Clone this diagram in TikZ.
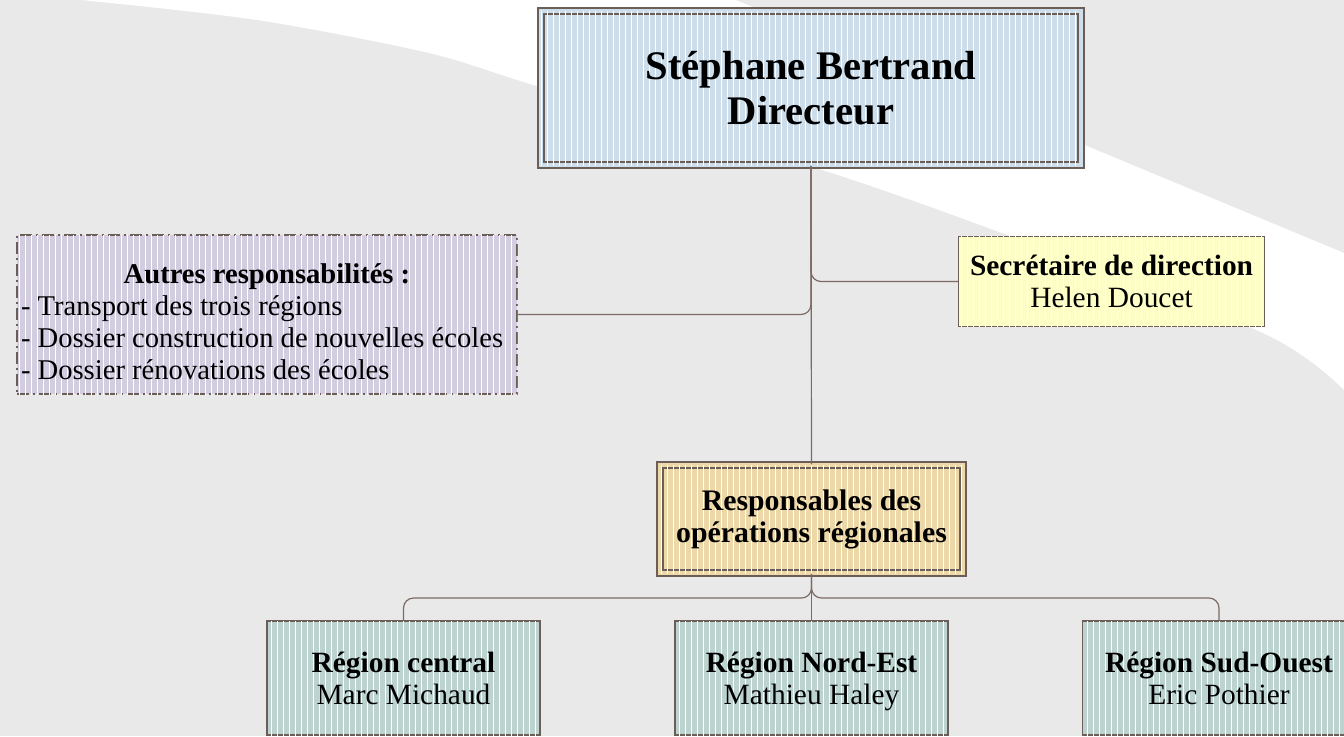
\documentclass[tikz,border=0pt]{standalone}
\usepackage{fontspec}
\setmainfont{Liberation Serif}
\usepackage{xcolor}
\usetikzlibrary{patterns}

\definecolor{bgGray}{HTML}{E9E9E9}
\definecolor{edgeBrown}{HTML}{6B5D58}
\definecolor{linkBrown}{HTML}{7D6A64}
\definecolor{dirBlue}{HTML}{CDDDEA}
\definecolor{autLilac}{HTML}{D3CDE0}
\definecolor{secYellow}{HTML}{FDFDC6}
\definecolor{respWheat}{HTML}{ECD8A9}
\definecolor{regTeal}{HTML}{BDD3CF}

\begin{document}
\begin{tikzpicture}[x=0.5pt, y=-0.5pt,
    stripes/.style={postaction={draw=none, solid, pattern=vertical lines, pattern color=white, fill opacity=0.22}},
    box/.style={draw=edgeBrown, line width=0.75pt, inner sep=0pt, align=center, stripes,
                font=\fontsize{14.7pt}{16pt}\selectfont},
    dblbox/.style={box, line width=0.75pt, double distance=2.2pt},
    region/.style={box, fill=regTeal, minimum width=136.5pt, minimum height=57pt, text depth=0pt},
    link/.style={draw=linkBrown, line width=0.6pt, rounded corners=5pt}]
      % backdrop with the white swoosh
      \clip (0, 0) rectangle (1344, 736);
      \fill[bgGray] (0, 0) rectangle (1344, 736);
      \fill[white] (736, 0) -- (1344, 253) -- (1344, 390)
          -- plot[smooth] coordinates {(1344, 390) (1263, 333) (1002, 233) (813, 167)
                                       (540, 87) (429, 53) (257, 20) (81, 0)}
          -- cycle;

      % boxes
      \node[dblbox, fill=dirBlue, double=dirBlue, minimum width=270pt, minimum height=77pt,
            font=\fontsize{20.3pt}{22.5pt}\selectfont\bfseries] (dir) at (811, 88)
          {Stéphane Bertrand\\Directeur};
      \node[box, fill=secYellow, minimum width=153pt, minimum height=45pt] (sec) at (1111.5, 281.5)
          {\textbf{Secrétaire de direction}\\Helen Doucet};
      \node[box, fill=autLilac, minimum width=250pt, minimum height=79.5pt, text depth=18pt,
            font=\fontsize{14.3pt}{16pt}\selectfont, line width=0.9pt,
            dash pattern=on 6pt off 2pt on 1pt off 2pt] (aut) at (267, 314.5)
          {\begin{tabular}{@{}p{246pt}@{}}
           \multicolumn{1}{@{}c@{}}{\textbf{Autres responsabilités :}}\\
           - Transport des trois régions\\
           - Dossier construction de nouvelles écoles\\
           - Dossier rénovations des écoles
           \end{tabular}};
      \node[dblbox, fill=respWheat, double=respWheat, minimum width=151.5pt, minimum height=54pt,
            font=\fontsize{14.9pt}{16pt}\selectfont\bfseries] (resp) at (811.5, 519)
          {Responsables des\\opérations régionales};
      \node[region] (central) at (403.5, 678) {\textbf{Région central}\\Marc Michaud};
      \node[region] (nordest) at (811.5, 678) {\textbf{Région Nord-Est}\\Mathieu Haley};
      \node[region] (sudouest) at (1219, 678) {\textbf{Région Sud-Ouest}\\Eric Pothier};

      % connectors
      \coordinate (bus) at (811.5, 598);
      \draw[link] (dir.south) -- (resp.north);
      \draw[link] (dir.south) |- (sec.west);
      \draw[link] (dir.south) |- (aut.east);
      \draw[link] (resp.south) -- (nordest.north);
      \draw[link] (resp.south) -- (bus) -| (central.north);
      \draw[link] (resp.south) -- (bus) -| (sudouest.north);
    \end{tikzpicture}
\end{document}
